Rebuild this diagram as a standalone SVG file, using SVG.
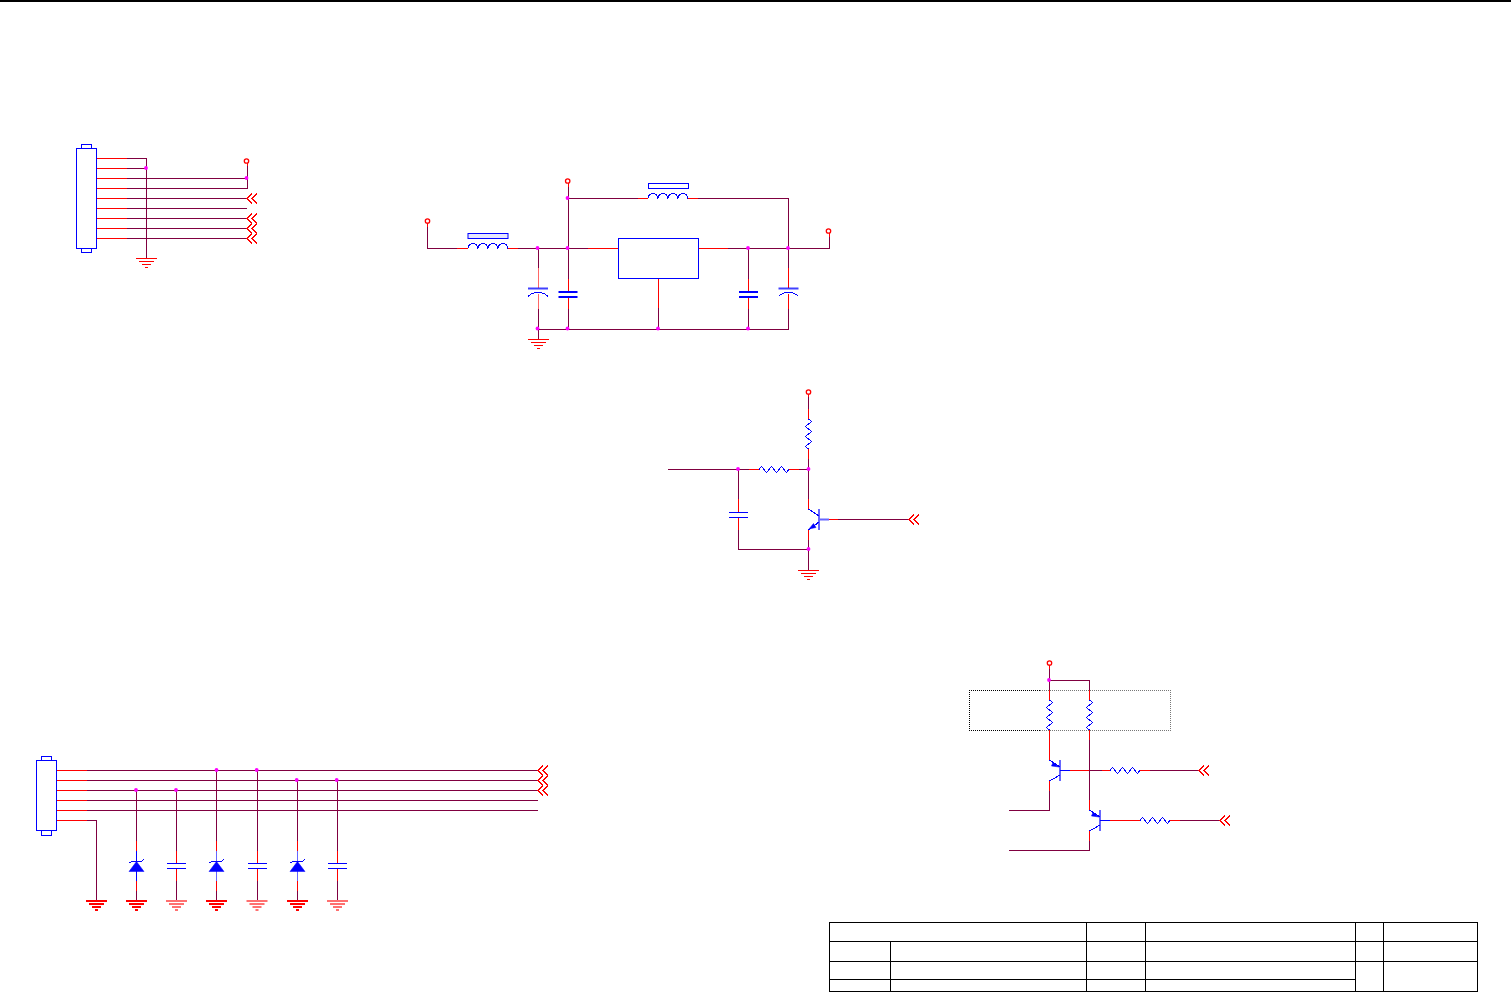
<svg xmlns="http://www.w3.org/2000/svg" width="1511" height="992" viewBox="0 0 1511 992">
<style>
.w{fill:none;stroke:#800040;stroke-width:1;shape-rendering:crispEdges}
.r{fill:none;stroke:#ff0000;stroke-width:1;shape-rendering:crispEdges}
.b{fill:none;stroke:#0000ff;stroke-width:1;shape-rendering:crispEdges}
.bt{fill:none;stroke:#0000ff;stroke-width:2}
.f{fill:#0000ff;stroke:#0000ff;stroke-width:.5}
.d{fill:#ff00ff}
.k{fill:none;stroke:#000000;stroke-width:1;shape-rendering:crispEdges}
.o{fill:#ffffff;stroke:#ff0000;stroke-width:1.3}
.dash{fill:none;stroke-width:1;stroke-dasharray:1 1;shape-rendering:crispEdges}
</style>
<defs>
<g id="gnd"><path class="r" d="M-10.5,0.5H10.5M-7.5,3.5H7.5M-4.5,6.5H4.5M-1.5,9.5H1.5"/></g>
<g id="gndT"><path fill="#ff0000" d="M-10.5,0h21v2h-21zM-7.5,3h15v2h-15zM-4.5,6h9v2h-9zM-1.5,9h3v2h-3z"/></g>
<g id="gndL"><path fill="#ff7070" d="M-10.5,0h21v2h-21zM-7.5,3h15v2h-15zM-4.5,6h9v2h-9zM-1.5,9h3v2h-3z"/></g>
<path id="chev" class="r" d="M5,-5L0,0L5,5M10,-5L5,0L10,5"/>
<path id="resV" class="b" d="M0,0L3,2.5L-3,7.5L3,12.5L-3,17.5L3,22.5L-3,27.5L0,30"/>
<path id="resH" class="b" d="M0,0L2.5,-3L7.5,3L12.5,-3L17.5,3L22.5,-3L27.5,3L30,0"/>
<path id="ind" class="b" d="M0,0a5,5 0 0 1 10,0a5,5 0 0 1 10,0a5,5 0 0 1 10,0a5,5 0 0 1 10,0"/>
<g id="capN"><path class="b" d="M-9.5,0.5H9.5M-9.5,5.5H9.5"/></g>
<g id="capT"><path class="bt" d="M-9.5,0H9.5M-9.5,5H9.5"/></g>
<g id="capP"><path class="bt" stroke-opacity=".75" d="M-10,0H10"/><path class="b" d="M-10,8a14,14 0 0 1 20,0"/></g>
<g id="zener"><path class="b" d="M-7,2L-5,0.5H5L7,-1.5"/><path class="f" d="M0,0.5L7.5,10.5H-7.5z"/></g>
</defs>
<rect id="page-top" x="0" y="0" width="1511" height="2" fill="#000000"/>

<g id="connectors">
<path class="w" d="M127,158.5H146.5V258M127,168.5H146.5M127,178.5H247M127,188.5H247.5V165M127,198.5H247M127,208.5H247M127,218.5H247M127,228.5H247M127,238.5H247"/>
<path class="w" d="M427.5,225V248.5H457M518,248.5H588M728,248.5H829.5V235M568.5,185V279M568.5,309V329.5M568.5,198.5H638M698,198.5H788.5V268M788.5,309V329.5M538.5,248.5V268M538.5,309V339M538.5,329.5H788.5M658.5,308V329.5M748.5,248.5V279M748.5,309V329.5"/>
<path class="w" d="M808.5,396V409M808.5,459V499M808.5,540V570M668,469.5H749M799,469.5H808.5M738.5,469.5V499M738.5,530V549.5H808.5M838,519.5H909"/>
<path class="w" d="M87,770.5H538M87,780.5H538M87,790.5H538M87,800.5H538M87,810.5H538M87,820.5H96.5V900M136.5,790.5V841M136.5,891V900M176.5,790.5V851M176.5,881V900M216.5,770.5V841M216.5,891V900M257.5,770.5V851M257.5,881V900M297.5,780.5V841M297.5,891V900M337.5,780.5V851M337.5,881V900"/>
<path class="w" d="M1049.5,667V690M1049.5,680.5H1089.5V690M1049.5,740V760M1049.5,791V810.5H1009M1089.5,740V800M1089.5,841V850.5H1009M1089,770.5H1102M1150,770.5H1199M1180,820.5H1220"/>
</g>

<g id="dots" class="d">
<circle cx="146" cy="168" r="1.9"/><circle cx="246.5" cy="178" r="1.9"/>
<circle cx="567.5" cy="198" r="1.9"/><circle cx="537.5" cy="248" r="1.9"/><circle cx="567.5" cy="248" r="1.9"/><circle cx="748" cy="248" r="1.9"/><circle cx="788" cy="248" r="1.9"/>
<circle cx="537.5" cy="328.5" r="1.9"/><circle cx="567.5" cy="328.5" r="1.9"/><circle cx="658" cy="328.5" r="1.9"/><circle cx="748" cy="328.5" r="1.9"/>
<circle cx="738" cy="469" r="1.9"/><circle cx="808.5" cy="469" r="1.9"/><circle cx="808.5" cy="549" r="1.9"/>
<circle cx="136" cy="790" r="1.9"/><circle cx="176" cy="790" r="1.9"/><circle cx="216.5" cy="770" r="1.9"/><circle cx="256.7" cy="770" r="1.9"/><circle cx="296.7" cy="780" r="1.9"/><circle cx="336.7" cy="780" r="1.9"/>
<circle cx="1049" cy="680" r="1.9"/>
</g>

<g id="J1">
<rect class="b" x="76.5" y="148.5" width="20" height="100"/><rect class="b" x="81.5" y="144.5" width="10" height="4"/><rect class="b" x="81.5" y="248.5" width="10" height="4"/>
<path class="r" d="M96.5,158.5H127M96.5,168.5H127M96.5,178.5H127M96.5,188.5H127M96.5,198.5H127M96.5,208.5H127M96.5,218.5H127M96.5,228.5H127M96.5,238.5H127"/>
</g>
<g id="J1-power"><circle class="o" cx="246.5" cy="161" r="2.2"/><path class="r" d="M247,163V166"/></g>
<g id="J1-gnd"><use href="#gnd" x="146.5" y="258"/></g>
<g id="J1-ports"><use href="#chev" x="247" y="198.5"/><use href="#chev" x="247" y="218.5"/><use href="#chev" x="247" y="228.5"/><use href="#chev" x="247" y="238.5"/></g>

<g id="PWR-in"><circle class="o" cx="427.5" cy="221" r="2.2"/><path class="r" d="M427.5,223V227"/></g>
<g id="PWR-mid"><circle class="o" cx="567.7" cy="181" r="2.2"/><path class="r" d="M568.5,183V187"/></g>
<g id="PWR-out"><circle class="o" cx="828.5" cy="231" r="2.2"/><path class="r" d="M829.5,233V237"/></g>
<g id="L1"><rect fill="#e6e6ff" stroke="#0000ff" x="468" y="233.5" width="40" height="5"/><use href="#ind" x="468" y="248.5"/><path class="r" d="M457,248.5H468M508,248.5H518"/></g>
<g id="L2"><rect class="b" x="648.5" y="183.5" width="40" height="5"/><use href="#ind" x="648" y="198.5"/><path class="r" d="M638,198.5H648M688,198.5H698"/></g>
<g id="U1"><rect class="b" x="618.5" y="238.5" width="80" height="40"/><path class="r" d="M588,248.5H618M698.5,248.5H728M658.5,278.5V308"/></g>
<g id="C1"><path class="r" stroke-opacity=".6" d="M538.5,268V288M538.5,294V309"/><use href="#capP" x="538" y="288.5"/></g>
<g id="C2"><path class="r" d="M568.5,279V292M568.5,297V309"/><use href="#capT" x="568" y="292"/></g>
<g id="C3"><path class="r" d="M748.5,279V292M748.5,297V309"/><use href="#capT" x="748.5" y="292"/></g>
<g id="C4"><path class="r" d="M788.5,268V288M788.5,294V309"/><use href="#capP" x="788.5" y="288.5"/></g>
<g id="GND-reg"><use href="#gnd" x="538" y="339"/></g>

<g id="PWR-q1"><circle class="o" cx="808.5" cy="392" r="2.2"/><path class="r" d="M808.5,394V397"/></g>
<g id="R1"><use href="#resV" x="808.5" y="419"/><path class="r" d="M808.5,409V419M808.5,449V459"/></g>
<g id="R2"><use href="#resH" x="759" y="469.5"/><path class="r" d="M749,469.5H759M789,469.5H799"/></g>
<g id="C5"><path class="r" d="M738.5,499V512M738.5,518V530"/><use href="#capN" x="738.5" y="512"/></g>
<g id="Q1">
<path class="r" d="M808.5,499V509M808.5,530V540"/>
<path class="b" d="M808.5,509L819,516M819,522L808.5,530"/>
<path class="bt" stroke-opacity=".6" d="M819,509V530M819,519.5H829"/>
<path class="f" d="M809,529L813.5,523.5L816,527.5z"/>
<path class="r" d="M829,519.5H838"/>
</g>
<g id="Q1-port"><use href="#chev" x="909" y="519.5"/></g>
<g id="GND-q1"><use href="#gnd" x="808.5" y="570"/></g>

<g id="J2">
<rect class="b" x="36.5" y="760.5" width="20" height="70"/><rect class="b" x="41.5" y="756.5" width="10" height="4"/><rect class="b" x="41.5" y="830.5" width="10" height="4.5"/>
<path class="r" d="M56.5,770.5H87M56.5,780.5H87M56.5,790.5H87M56.5,800.5H87M56.5,810.5H87M56.5,820.5H87"/>
</g>
<g id="J2-ports"><use href="#chev" x="538" y="770.5"/><use href="#chev" x="538" y="780.5"/><use href="#chev" x="538" y="790.5"/></g>
<g id="D1"><path class="r" d="M136.5,841V851M136.5,881V891"/><path class="b" d="M136.5,851V881"/><use href="#zener" x="136.5" y="861"/></g>
<g id="C6"><path class="r" d="M176.5,851V863M176.5,869V881"/><use href="#capN" x="176.5" y="863"/></g>
<g id="D2"><path class="r" d="M216.5,841V851M216.5,881V891"/><path class="b" d="M216.5,851V881" stroke-opacity=".6"/><use href="#zener" x="216.5" y="861"/></g>
<g id="C7"><path class="r" d="M257.5,851V863M257.5,869V881"/><use href="#capN" x="257" y="863"/></g>
<g id="D3"><path class="r" d="M297.5,841V851M297.5,881V891"/><path class="b" d="M297.5,851V881" stroke-opacity=".6"/><use href="#zener" x="297.5" y="861"/></g>
<g id="C8"><path class="r" d="M337.5,851V863M337.5,869V881"/><use href="#capN" x="337.5" y="863"/></g>
<g id="J2-gnds">
<use href="#gndT" x="96.5" y="900"/><use href="#gndT" x="136.5" y="900"/><use href="#gndL" x="176.5" y="900"/><use href="#gndT" x="216.5" y="900"/><use href="#gndL" x="257" y="900"/><use href="#gndT" x="297.5" y="900"/><use href="#gndL" x="337.5" y="900"/>
</g>

<g id="PWR-q2"><circle class="o" cx="1049.5" cy="663" r="2.2"/><path class="r" d="M1049.5,665V669"/></g>
<g id="R-box">
<path class="dash" stroke="#000000" d="M1040,690.5H969.5V730.5H1040"/>
<path class="dash" stroke="#777777" d="M1040,690.5H1170.5V730.5H1040"/>
</g>
<g id="R3"><use href="#resV" x="1049.5" y="700"/><path class="r" d="M1049.5,690V700M1049.5,730V740"/></g>
<g id="R4"><use href="#resV" x="1089.5" y="700"/><path class="r" d="M1089.5,690V700M1089.5,730V740"/></g>
<g id="Q2">
<path class="r" d="M1049.5,740V760M1049.5,781V791"/>
<path class="b" d="M1049.5,760L1060,767M1060,775L1049.5,781"/>
<path class="bt" stroke-opacity=".6" d="M1060,760V781"/>
<path class="b" d="M1060,770.5H1070"/><path class="r" d="M1070,770.5H1089"/>
<path class="f" d="M1059,767L1053,762.5L1051.5,766z"/>
</g>
<g id="R5"><use href="#resH" x="1110" y="770.5"/><path class="r" d="M1102,770.5H1110M1140,770.5H1150"/></g>
<g id="Q2-port"><use href="#chev" x="1199" y="770.5"/></g>
<g id="Q3">
<path class="r" d="M1089.5,800V810M1089.5,831V841"/>
<path class="b" d="M1089.5,810L1100,817M1100,825L1089.5,831"/>
<path class="bt" stroke-opacity=".6" d="M1100,810V831"/>
<path class="b" d="M1100,820.5H1110"/><path class="r" d="M1110,820.5H1140"/>
<path class="f" d="M1099,817L1093,812.5L1091.5,816z"/>
</g>
<g id="R6"><use href="#resH" x="1140" y="820.5"/><path class="r" d="M1170,820.5H1180"/></g>
<g id="Q3-port"><use href="#chev" x="1220" y="820.5"/></g>

<g id="title-block">
<rect class="k" x="829.5" y="922.5" width="648" height="68.5"/>
<path class="k" d="M830,941.5H1478M830,961.5H1478M830,979.5H1355M890.5,941.5V991M1086.5,922.5V991M1145.5,922.5V991M1355.5,922.5V991M1383.5,922.5V991"/>
</g>
</svg>
